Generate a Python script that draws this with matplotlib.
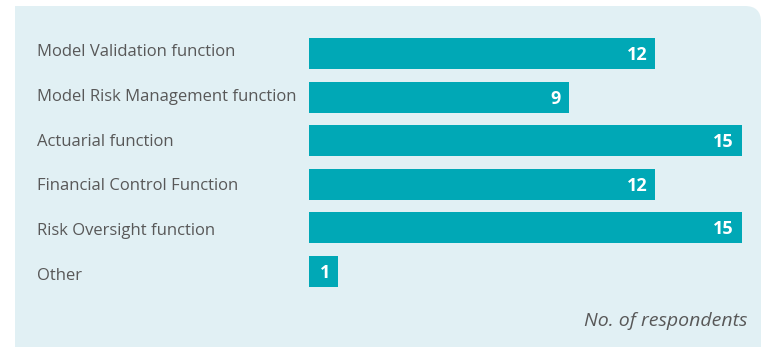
import matplotlib
matplotlib.use("Agg")
import matplotlib.pyplot as plt
from matplotlib.path import Path
from matplotlib.patches import PathPatch

categories = ["Model Validation function", "Model Risk Management function",
              "Actuarial function", "Financial Control Function",
              "Risk Oversight function", "Other"]
values = [12, 9, 15, 12, 15, 1]
axis_note = "No. of respondents"

W, H = 761, 347
fig = plt.figure(figsize=(W / 100, H / 100), dpi=100)
fig.patch.set_facecolor("white")

# panel with rounded top-right corner (pixel coords -> figure coords)
bg = "#E1F0F4"
x0, y0, x1, y1, r = 15, 6, 761, 347, 16
def P(x, y):
    return (x / W, 1 - y / H)
verts = [P(x0, y1), P(x0, y0), P(x1 - r, y0), P(x1, y0), P(x1, y0 + r), P(x1, y1), P(x0, y1)]
codes = [Path.MOVETO, Path.LINETO, Path.LINETO, Path.CURVE3, Path.CURVE3, Path.LINETO, Path.CLOSEPOLY]
fig.patches.append(PathPatch(Path(verts, codes), transform=fig.transFigure,
                             facecolor=bg, edgecolor="none", zorder=-10))

left_px, right_px = 309, 742
top_px, bot_px = 31.7, 293.3
ax = fig.add_axes([left_px / W, 1 - bot_px / H, (right_px - left_px) / W, (bot_px - top_px) / H])
ax.set_facecolor("none")
ax.set_zorder(5)
ypos = list(range(len(categories)))
bar_color = "#00A8B6"
ax.barh(ypos, values, height=0.71, color=bar_color, left=0)
ax.set_xlim(0, 15)
ax.set_ylim(len(categories) - 0.5, -0.5)
ax.axis("off")

text_color = "#585858"
fam = ["Open Sans", "DejaVu Sans"]
label_top_baseline, label_step = 56.0, 44.76
for i, (cat, v) in enumerate(zip(categories, values)):
    fig.text(37 / W, 1 - (label_top_baseline + i * label_step) / H, cat,
             ha="left", va="baseline", fontsize=12, color=text_color, family=fam)
    ax.annotate(str(v), xy=(v, i), xytext=(-8, -6.5), textcoords="offset pixels",
                ha="right", va="baseline", fontsize=13, fontweight="bold",
                color="white", family=fam)

fig.text(747 / W, 1 - 326 / H, axis_note, ha="right", va="baseline", fontsize=14,
         style="italic", color=text_color, family=fam)

fig.savefig("out.png", dpi=100, facecolor=fig.get_facecolor())
